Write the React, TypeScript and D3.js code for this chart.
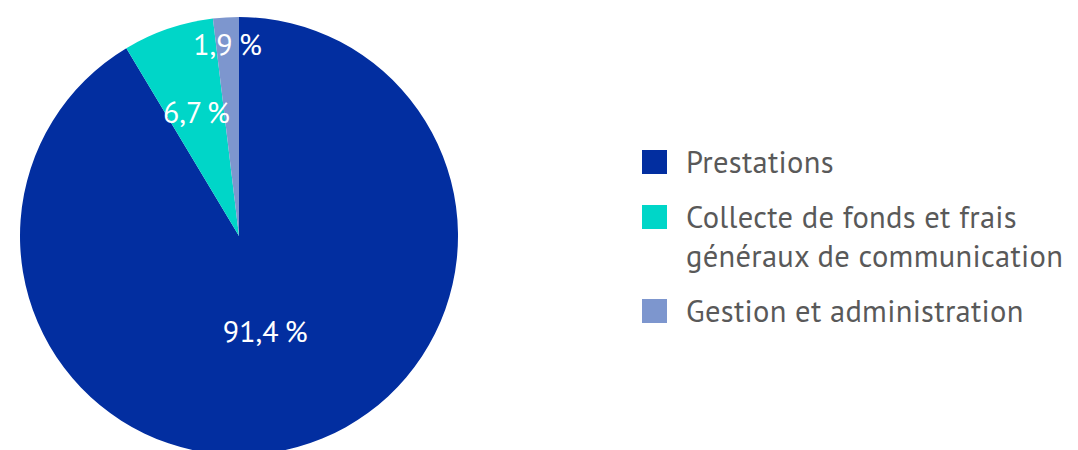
import React from "react";
import * as d3 from "d3";

const categories = ["Prestations", "Collecte de fonds et frais généraux de communication", "Gestion et administration"];
const values = [91.4, 6.7, 1.9];
const valueLabels = ["91,4\u2009%", "6,7\u2009%", "1,9\u2009%"];
const legendLines = [["Prestations"], ["Collecte de fonds et frais", "généraux de communication"], ["Gestion et administration"]];
const colors = ["#022EA0", "#00D6C8", "#7D96CE"];

export default function App() {
  const W = 1078, H = 450;
  const cx = 239, cy = 236, r = 219;
  const labelFrac = [0.45, 0.6, 0.877];
  const pie = d3.pie<number>().sort(null).value((d) => d)(values);
  const arc = d3.arc<d3.PieArcDatum<number>>().innerRadius(0).outerRadius(r);
  const font = "'PT Sans', 'Open Sans', 'Noto Sans', sans-serif";
  const rowBase = [173, 228, 322];
  return (
    <svg width={W} height={H} style={{ position: "absolute", left: 0, top: 0 }}>
      <rect width={W} height={H} fill="#fff" />
      <g transform={`translate(${cx},${cy})`}>
        {pie.map((p, i) => (
          <path key={i} d={arc(p) || ""} fill={colors[i]} />
        ))}
        {pie.map((p, i) => {
          const a = (p.startAngle + p.endAngle) / 2;
          const rr = r * labelFrac[i];
          const x = Math.sin(a) * rr;
          const y = -Math.cos(a) * rr;
          return (
            <text key={i} x={x} y={y + 11} textAnchor="middle" fill="#fff" fontFamily={font} fontSize={30}>
              {valueLabels[i]}
            </text>
          );
        })}
      </g>
      {categories.map((c, i) => (
        <g key={c}>
          <rect x={642} y={rowBase[i] - 23} width={25} height={24} fill={colors[i]} />
          {legendLines[i].map((ln, j) => (
            <text key={j} x={686} y={rowBase[i] + j * 39} fill="#595959" fontFamily={font} fontSize={30.5} letterSpacing={0.3}>
              {ln}
            </text>
          ))}
        </g>
      ))}
    </svg>
  );
}
